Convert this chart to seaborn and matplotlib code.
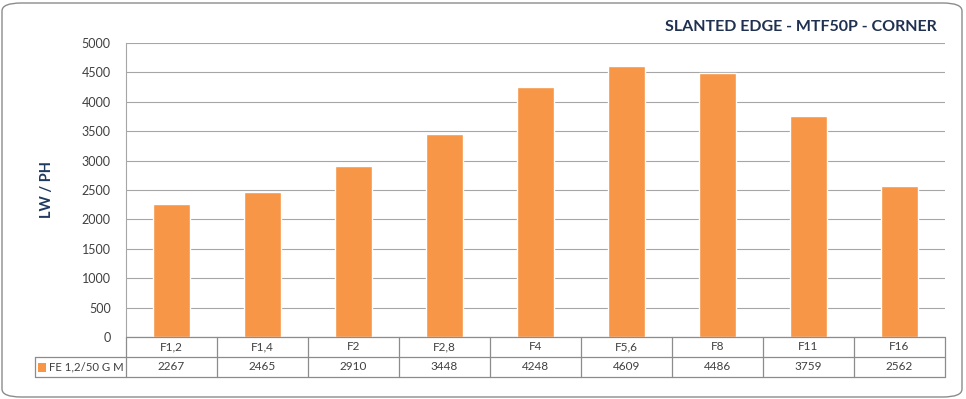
import matplotlib
matplotlib.use("Agg")
import matplotlib.pyplot as plt
import seaborn as sns
import pandas as pd
from matplotlib.patches import FancyBboxPatch, Rectangle
from matplotlib.lines import Line2D

apertures = ["F1,2", "F1,4", "F2", "F2,8", "F4", "F5,6", "F8", "F11", "F16"]
mtf50p = [2267, 2465, 2910, 3448, 4248, 4609, 4486, 3759, 2562]
series_name = "FE 1,2/50 G M"
yticks = [0, 500, 1000, 1500, 2000, 2500, 3000, 3500, 4000, 4500, 5000]

sns.set_style("white")
plt.rcParams['font.family'] = ['Lato', 'DejaVu Sans']

W, H = 966, 399
fig = plt.figure(figsize=(W / 100, H / 100), dpi=100)
fig.patch.set_facecolor("white")

# rounded border
border = FancyBboxPatch((2 / W, 2 / H), (W - 6) / W, (H - 5) / H,
                        boxstyle="round,pad=0,rounding_size=0.02",
                        transform=fig.transFigure, fill=False,
                        edgecolor="#8c8c8c", linewidth=1.0)
fig.patches.append(border)

x0, x1 = 126, 945
y_top, y_bot = 43, 337
ax = fig.add_axes([x0 / W, (H - y_bot) / H, (x1 - x0) / W, (y_bot - y_top) / H])

df = pd.DataFrame({"aperture": apertures, "mtf": mtf50p})
orange = "#F79646"
sns.barplot(data=df, x="aperture", y="mtf", color=orange, width=0.41,
            saturation=1, ax=ax, zorder=3)

ax.set_ylim(0, 5000)
ax.set_xlim(-0.5, len(apertures) - 0.5)
ax.set_yticks(yticks)
ax.set_yticklabels([str(t) for t in yticks], fontsize=9, color="#404040")
ax.tick_params(axis="y", length=0, pad=11)
ax.set_xticks([])
ax.set_xlabel("")
ax.set_ylabel("LW / PH", fontsize=10.5, fontweight="bold", color="#1F3A5F", labelpad=20)
for t in yticks:
    ax.axhline(t, color="#a6a6a6", linewidth=0.8, zorder=1)
for s in ["top", "right", "bottom"]:
    ax.spines[s].set_visible(False)
ax.spines["left"].set_color("#a6a6a6")
ax.spines["left"].set_linewidth(0.8)

# data table (drawn in figure pixel coordinates)
def fx(px):
    return px / W

def fy(py):
    return (H - py) / H

lc = "#8c8c8c"
row1_top, row1_bot, row2_bot = 337, 357, 377
leg_left = 35
cw = (x1 - x0) / len(apertures)
lines = []
lines.append(((x0, row1_bot), (x1, row1_bot)))
lines.append(((leg_left, row1_bot), (x0, row1_bot)))
lines.append(((leg_left, row2_bot), (x1, row2_bot)))
lines.append(((x0, row1_top), (x1, row1_top)))
lines.append(((leg_left, row1_bot), (leg_left, row2_bot)))
for i in range(len(apertures) + 1):
    xx = x0 + i * cw
    lines.append(((xx, row1_top), (xx, row2_bot)))
for (a, b) in lines:
    fig.add_artist(Line2D([fx(a[0]), fx(b[0])], [fy(a[1]), fy(b[1])],
                          transform=fig.transFigure, color=lc, linewidth=0.9))

for i, (lab, val) in enumerate(zip(apertures, mtf50p)):
    cx = x0 + (i + 0.5) * cw
    fig.text(fx(cx), fy((row1_top + row1_bot) / 2), lab, ha="center", va="center",
             fontsize=8.5, color="#404040")
    fig.text(fx(cx), fy((row1_bot + row2_bot) / 2), str(val), ha="center", va="center",
             fontsize=8.5, color="#404040")

fig.add_artist(Rectangle((fx(38), fy(372)), 8 / W, 9 / H, transform=fig.transFigure,
                         facecolor=orange, edgecolor="none"))
fig.text(fx(49), fy((row1_bot + row2_bot) / 2), series_name, ha="left", va="center",
         fontsize=8.2, color="#404040")

fig.text(fx(937), fy(27), "SLANTED EDGE - MTF50P - CORNER", ha="right", va="center",
         fontsize=11.5, fontweight="bold", color="#1F3050")

fig.savefig("out.png", dpi=100, facecolor="white")
